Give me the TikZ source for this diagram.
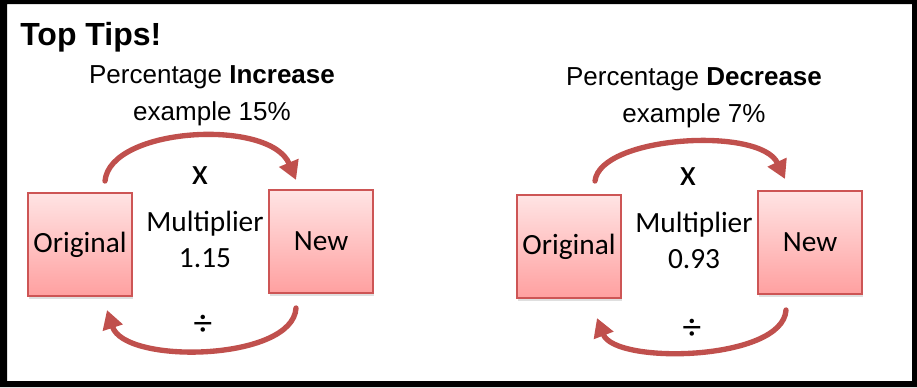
\documentclass[tikz,border=0pt]{standalone}
\usepackage{fontspec}
\setmainfont{Liberation Sans}
\newfontfamily\calibri{Carlito}
\usepackage{tikz}
\usetikzlibrary{arrows.meta,shadows}
\definecolor{arcred}{RGB}{192,80,77}
\definecolor{boxline}{RGB}{205,85,85}
\definecolor{boxtop}{RGB}{255,228,228}
\definecolor{boxbottom}{RGB}{255,160,160}
\tikzset{
  heading/.style={font=\bfseries\fontsize{24}{28}\selectfont,inner sep=0pt},
  caption/.style={font=\fontsize{19.5}{27.75}\selectfont,align=center,inner sep=0pt},
  valbox/.style={rectangle,draw=boxline,line width=1.2pt,
    top color=boxtop,bottom color=boxbottom,
    minimum width=78pt,minimum height=77pt,inner sep=0pt,
    font=\calibri\fontsize{22}{27}\selectfont,
    drop shadow={shadow xshift=1pt,shadow yshift=-2.5pt,opacity=0.25}},
  mult/.style={font=\calibri\fontsize{22}{27}\selectfont,align=center,inner sep=0pt},
  sign/.style={font=\calibri\fontsize{28}{30}\selectfont,inner sep=0pt},
  flow/.style={draw=arcred,line width=4pt,line cap=round,
    -{Triangle[length=14pt,width=15pt]}}
}
\begin{document}
\begin{tikzpicture}[x=0.75pt,y=-0.75pt]
  \useasboundingbox (0,0) rectangle (917,387);
  % frame
  \fill[black,even odd rule] (0,0) rectangle (917,387) (7,4) rectangle (912,381);
  \node[heading,anchor=base west] (tips) at (20,45) {Top Tips!};

  % increase
  \node[caption] (inctitle) at (212,96) {Percentage \textbf{Increase}\\example 15\%};
  \node[valbox] (orig1) at (80,244.5) {Original};
  \node[valbox] (new1) at (321,241.5) {New};
  \node[mult] (mult1) at (205,239) {Multiplier\\1.15};
  \node[sign] (times1) at (200,176) {x};
  \node[sign] (div1) at (203,325) {÷};
  \coordinate (go1) at (105,181);
  \coordinate (to1) at (296,180);
  \coordinate (back1) at (296,308);
  \coordinate (from1) at (107,310);
  \draw[flow] (go1) .. controls (110,127) and (270,118) .. (to1);
  \draw[flow] (back1) .. controls (293,361) and (125,365) .. (from1);

  % decrease
  \node[caption] (dectitle) at (694,98) {Percentage \textbf{Decrease}\\example 7\%};
  \node[valbox] (orig2) at (569,246.5) {Original};
  \node[valbox] (new2) at (810,242.5) {New};
  \node[mult] (mult2) at (694,240) {Multiplier\\0.93};
  \node[sign] (times2) at (688,177) {x};
  \node[sign] (div2) at (692,329) {÷};
  \coordinate (go2) at (595,181);
  \coordinate (to2) at (785,179);
  \coordinate (back2) at (786,310);
  \coordinate (from2) at (597,318);
  \draw[flow] (go2) .. controls (600,136) and (760,126) .. (to2);
  \draw[flow] (back2) .. controls (783,361) and (615,365) .. (from2);
\end{tikzpicture}
\end{document}
